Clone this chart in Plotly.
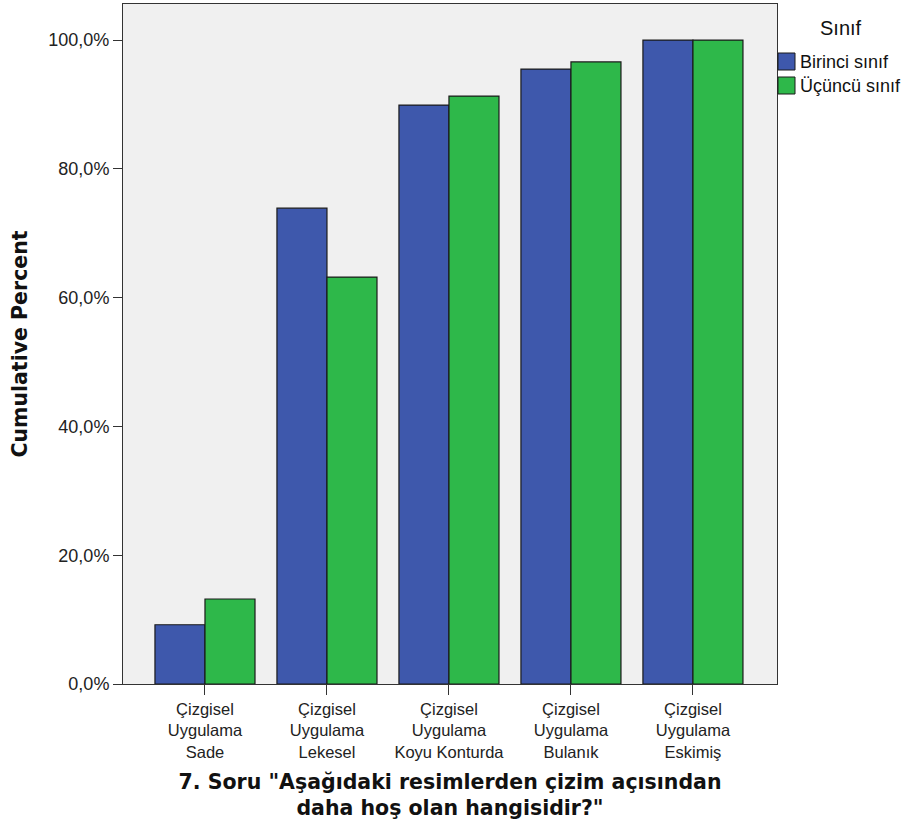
import plotly.graph_objects as go

categories = ["Çizgisel<br>Uygulama<br>Sade", "Çizgisel<br>Uygulama<br>Lekesel",
              "Çizgisel<br>Uygulama<br>Koyu Konturda", "Çizgisel<br>Uygulama<br>Bulanık",
              "Çizgisel<br>Uygulama<br>Eskimiş"]
birinci = [9.2, 73.9, 89.9, 95.5, 100.0]
ucuncu = [13.2, 63.2, 91.3, 96.6, 100.0]
series_names = ["Birinci sınıf", "Üçüncü sınıf"]
series_colors = ["#3E58AC", "#2EB84A"]
legend_title = "Sınıf"
y_ticks = [0, 20, 40, 60, 80, 100]
y_ticktext = ["0,0%", "20,0%", "40,0%", "60,0%", "80,0%", "100,0%"]
x_title = "<b>7. Soru \"Aşağıdaki resimlerden çizim açısından<br>daha hoş olan hangisidir?\"</b>"
y_title = "<b>Cumulative Percent</b>"

sans = "Liberation Sans, Arial, sans-serif"
bold = "DejaVu Sans, Verdana, sans-serif"

W, H = 907, 822
L, R, T, B = 123, 130, 4, 138
PW, PH = W - L - R, H - T - B

def px_x(p):
    return (p - L) / PW

def px_y(p):
    return (H - B - p) / PH

fig = go.Figure()
for name, vals, col in zip(series_names, [birinci, ucuncu], series_colors):
    fig.add_trace(go.Bar(x=categories, y=vals, name=name,
                         marker=dict(color=col, line=dict(color="#1a1a1a", width=1.2))))

# Legend (drawn manually to match the compact SPSS style)
shapes = []
annotations = []
swatch_tops = [53, 77]
for name, col, top in zip(series_names, series_colors, swatch_tops):
    shapes.append(dict(type="rect", xref="paper", yref="paper",
                       x0=px_x(778), x1=px_x(795), y0=px_y(top + 17), y1=px_y(top),
                       fillcolor=col, line=dict(color="#1a1a1a", width=1)))
    annotations.append(dict(text=name, xref="paper", yref="paper",
                            x=px_x(798), y=px_y(top + 8.5), xanchor="left", yanchor="middle",
                            showarrow=False, font=dict(family=sans, size=18, color="#111")))
annotations.append(dict(text=legend_title, xref="paper", yref="paper",
                        x=px_x(841), y=px_y(28), xanchor="center", yanchor="middle",
                        showarrow=False, font=dict(family=sans, size=20, color="#111")))

fig.update_layout(
    width=W, height=H,
    margin=dict(l=L, r=R, t=T, b=B),
    paper_bgcolor="white", plot_bgcolor="#F0F0F0",
    barmode="group", bargap=0.18, bargroupgap=0,
    font=dict(family=sans, size=17, color="#222"),
    showlegend=False,
    shapes=shapes, annotations=annotations,
)
fig.update_xaxes(range=[-0.672, 4.689], showline=True, linecolor="#333", linewidth=1, mirror=True,
                 ticks="outside", ticklen=10, tickcolor="#333", showgrid=False,
                 tickfont=dict(family=sans, size=16.5, color="#222"),
                 title=dict(text=x_title, font=dict(family=bold, size=20.5, color="#111"), standoff=14))
fig.update_yaxes(range=[0, 105.6], tickvals=y_ticks, ticktext=y_ticktext,
                 showline=True, linecolor="#333", linewidth=1, mirror=True,
                 ticks="outside", ticklen=9, tickcolor="#333", showgrid=False, zeroline=False,
                 tickfont=dict(family=sans, size=18, color="#222"),
                 title=dict(text=y_title, font=dict(family=bold, size=20.5, color="#111"), standoff=15))

fig.write_html("out.html", config={"displayModeBar": False},
               post_script="document.body.style.margin='0px';")
